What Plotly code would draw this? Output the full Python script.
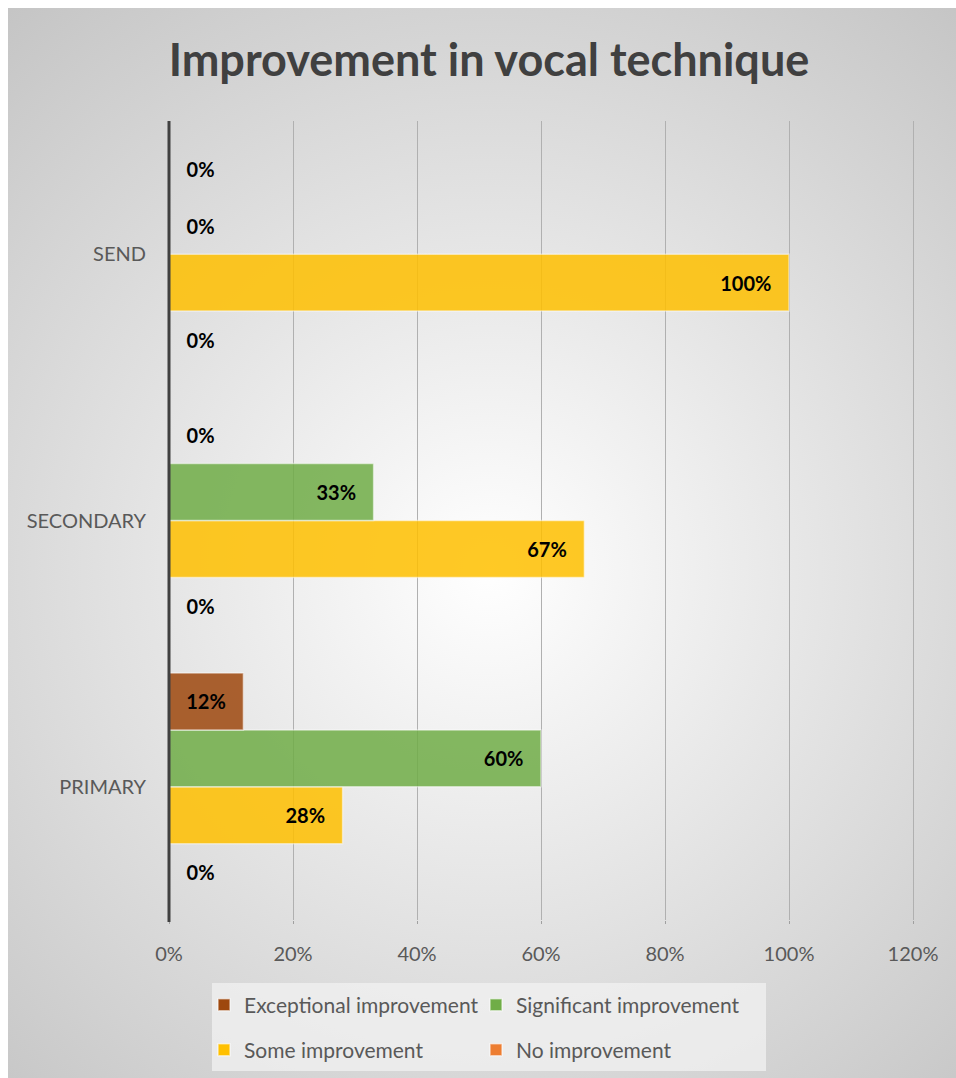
import base64
import plotly.graph_objects as go

# Survey results: share of pupils by level of improvement
categories = ["PRIMARY", "SECONDARY", "SEND"]
exceptional = [12, 0, 0]
significant = [60, 33, 0]
some = [28, 67, 100]
no_improvement = [0, 0, 0]
x_ticks = [0, 20, 40, 60, 80, 100, 120]
x_tick_labels = ["0%", "20%", "40%", "60%", "80%", "100%", "120%"]

W, H = 956, 1078
FONT = "Lato"
NBSP = "\u00a0"


def labels(values):
    out = []
    for v in values:
        if v == 0:
            out.append(NBSP * 3 + f"{v}%")
        else:
            out.append(f"{v}%" + NBSP * 3)
    return out


def positions(values):
    return ["outside" if v == 0 else "inside" for v in values]


# traces are added bottom-to-top inside each group
series = [
    ("No improvement", no_improvement, "#ED7D31", 4, "legend2"),
    ("Some improvement", some, "#FFC000", 3, "legend2"),
    ("Significant improvement", significant, "#70AD47", 2, "legend"),
    ("Exceptional improvement", exceptional, "#9E480E", 1, "legend"),
]

fig = go.Figure()
for name, vals, color, rank, leg in series:
    fig.add_trace(go.Bar(
        y=categories, x=vals, name=name, orientation="h",
        marker=dict(color=color, opacity=0.85,
                    line=dict(color="rgba(255,255,255,0.55)", width=1.5)),
        text=labels(vals), textposition=positions(vals),
        insidetextanchor="end", textangle=0, constraintext="none",
        textfont=dict(family=FONT, size=20, color="#000000", weight="bold"),
        cliponaxis=False, legendrank=rank, legend=leg,
        hoverinfo="skip",
    ))

# radial gradient chart background
svg = (
    f"<svg xmlns='http://www.w3.org/2000/svg' width='948' height='1070' "
    f"viewBox='0 0 948 1070' preserveAspectRatio='none'>"
    f"<defs><radialGradient id='g' cx='482' cy='562' r='750' gradientUnits='userSpaceOnUse'>"
    f"<stop offset='0' stop-color='#ffffff'/><stop offset='1' stop-color='#c4c4c4'/>"
    f"</radialGradient></defs><rect width='948' height='1070' fill='url(#g)'/></svg>"
)
bg_src = "data:image/svg+xml;base64," + base64.b64encode(svg.encode()).decode()


def px(x):
    return x / W


def py(y):
    return 1 - y / H


# 0% sits at x=169 px, 120% at x=913 px; extend the range a little so the
# last grid line is kept
X_MAX = 121
PX_PER_UNIT = (913 - 169) / 120
X_RIGHT = 169 + X_MAX * PX_PER_UNIT

legend_common = dict(
    orientation="h", xanchor="left", yanchor="middle",
    bgcolor="rgba(0,0,0,0)", entrywidth=227, entrywidthmode="pixels",
    font=dict(family=FONT, size=21, color="#595959"),
    traceorder="normal",
)

fig.update_layout(
    template="none",
    width=W, height=H,
    margin=dict(l=0, r=0, t=0, b=0),
    paper_bgcolor="#ffffff",
    plot_bgcolor="rgba(0,0,0,0)",
    barmode="group",
    bargap=0.145,
    bargroupgap=0,
    title=dict(
        text="<b>Improvement in vocal technique</b>",
        x=px(489), xanchor="center", y=py(60), yanchor="middle",
        font=dict(family=FONT, size=45, color="#404040"),
    ),
    xaxis=dict(
        domain=[px(169), px(X_RIGHT)], range=[0, X_MAX],
        tickvals=x_ticks, ticktext=x_tick_labels,
        showgrid=True, gridcolor="#B0B0B0", gridwidth=1.2,
        zeroline=False, showline=False,
        ticks="outside", ticklen=3, tickcolor="#A0A0A0",
        ticklabelstandoff=13,
        tickfont=dict(family=FONT, size=20, color="#595959"),
        automargin=False, fixedrange=True,
    ),
    yaxis=dict(
        domain=[py(920), py(121)],
        showgrid=False, zeroline=False,
        showline=False, ticks="",
        ticklabelstandoff=22,
        tickfont=dict(family=FONT, size=20, color="#595959"),
        automargin=False, fixedrange=True,
    ),
    legend=dict(legend_common, x=px(204), y=py(1005)),
    legend2=dict(legend_common, x=px(204), y=py(1050)),
    images=[dict(
        source=bg_src, xref="paper", yref="paper",
        x=px(8), y=py(8), sizex=1 - px(8), sizey=py(8),
        xanchor="left", yanchor="top", sizing="stretch", layer="below",
    )],
    shapes=[
        # legend panel
        dict(type="rect", xref="paper", yref="paper",
             x0=px(212), x1=px(766), y0=py(1071), y1=py(983),
             fillcolor="rgba(242,242,242,0.75)", line=dict(width=0), layer="below"),
        # vertical category axis line at 0%
        dict(type="line", xref="paper", yref="paper",
             x0=px(169), x1=px(169), y0=py(922), y1=py(121),
             line=dict(color="#404040", width=3), layer="above"),
    ],
)

fig.write_html("out.html")
